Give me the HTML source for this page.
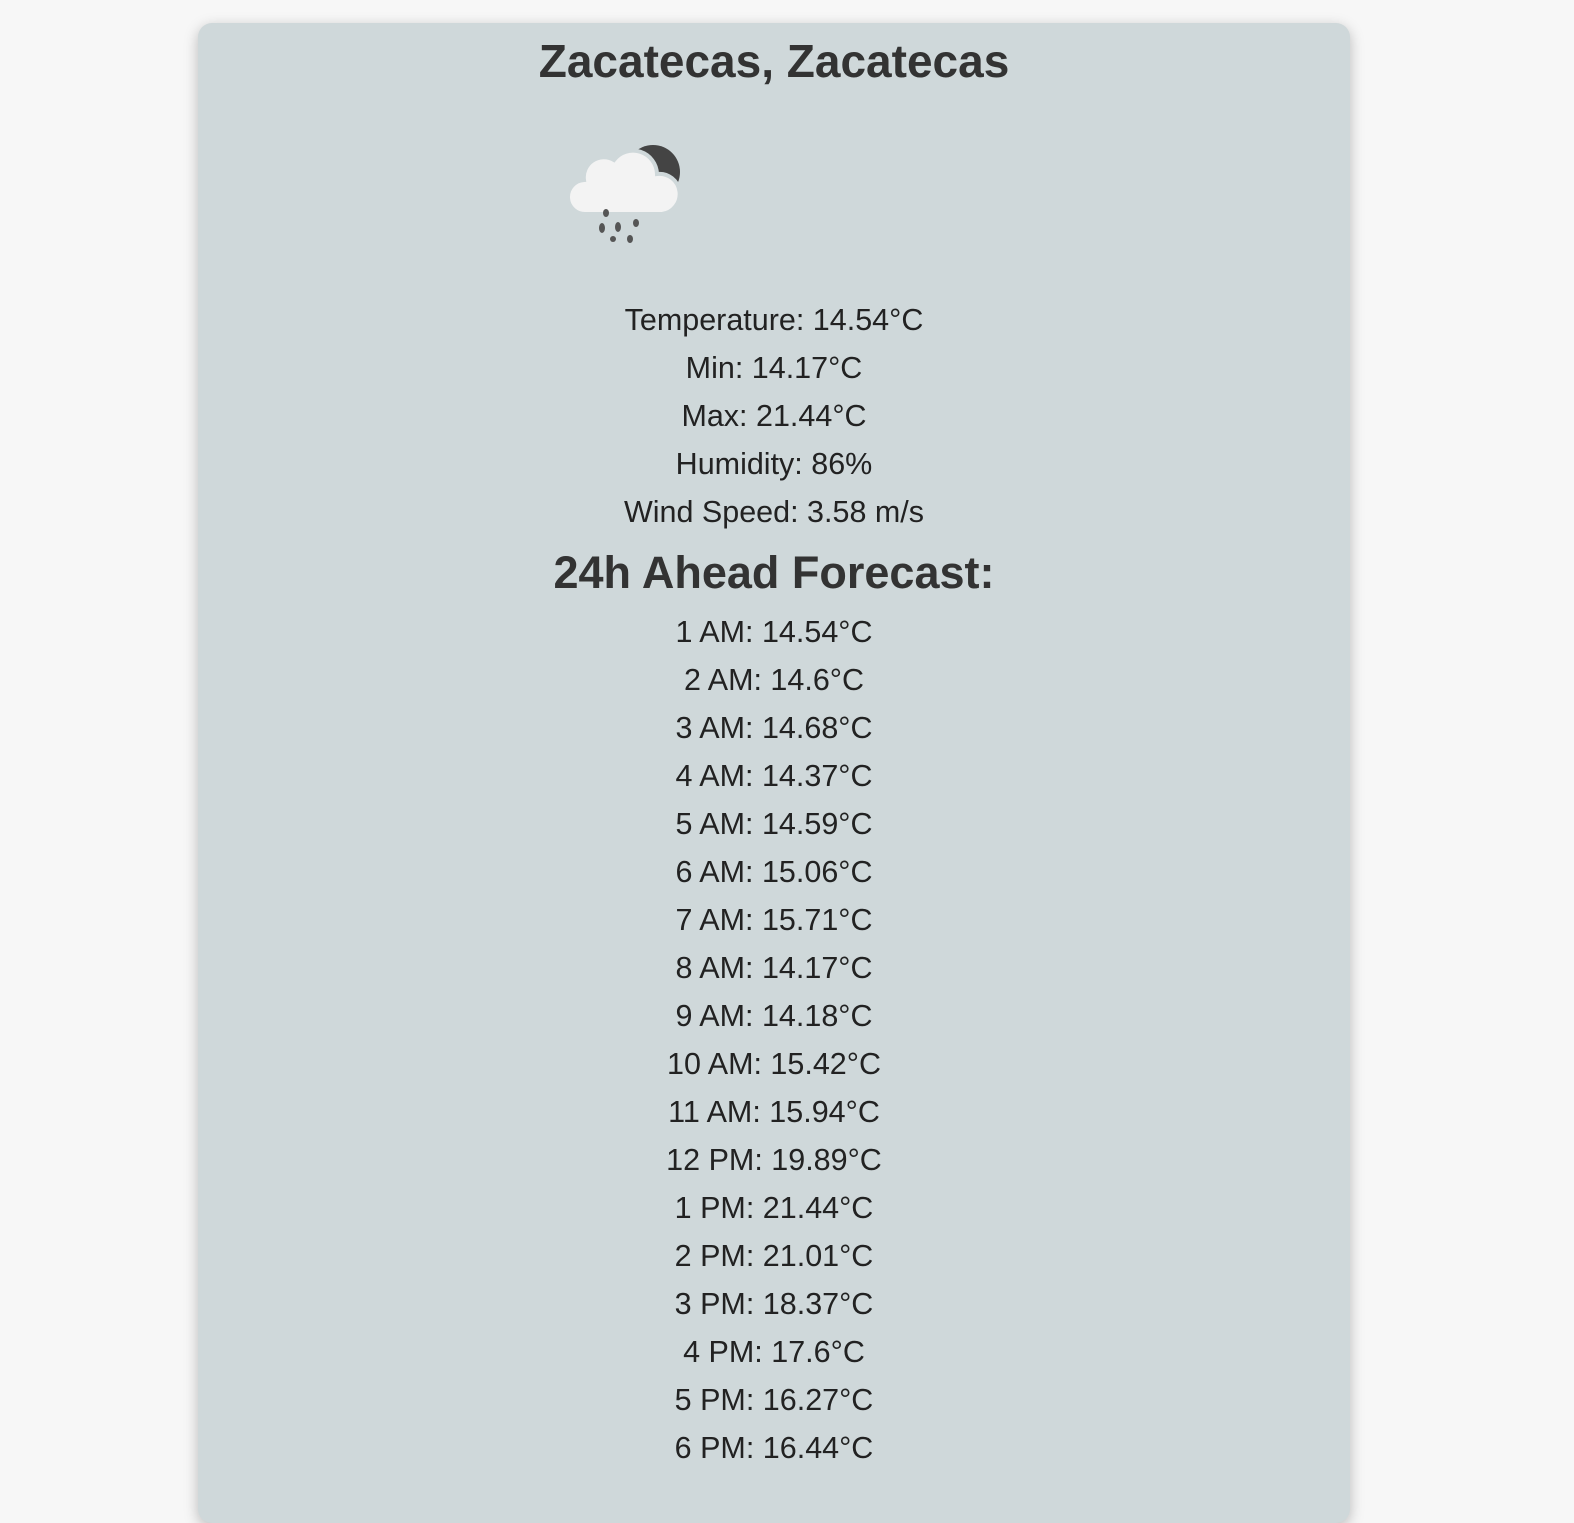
<!DOCTYPE html>
<html><head><meta charset="utf-8"><style>
html,body{margin:0;padding:0;background:#f7f7f7;width:1574px;height:1470px;overflow:hidden;font-family:"Liberation Sans",sans-serif;}
.card{position:absolute;left:198px;top:23px;width:1152px;height:1500px;background:#cfd8da;border-radius:14px;box-shadow:0 4px 14px rgba(0,0,0,0.25);text-align:center;color:#222;}
h1{margin:0;position:absolute;top:11px;left:0;right:0;font-size:46px;line-height:54px;font-weight:bold;color:#333;}
h2{margin:0;position:absolute;top:523px;left:0;right:0;font-size:45px;line-height:54px;font-weight:bold;color:#333;}
.lines{position:absolute;left:0;right:0;font-size:30.5px;line-height:48px;}
.icon{position:absolute;left:370px;top:118px;}
</style></head><body>
<div class="card">
<h1>Zacatecas, Zacatecas</h1>
<svg class="icon" width="120" height="115" viewBox="0 0 120 115">
<circle cx="85" cy="31" r="27" fill="#444"/>
<path d="M18 73 a17 17 0 0 1 -2-34 a20 20 0 0 1 30-20 a24 24 0 0 1 43 14 a16 16 0 0 1 5 40 z" fill="#f3f3f3" stroke="#cfd8da" stroke-width="4"/>
<g fill="#555">
<ellipse cx="38" cy="72" rx="3" ry="4"/><ellipse cx="34" cy="87" rx="3" ry="5"/><ellipse cx="50" cy="86" rx="3" ry="5"/><ellipse cx="68" cy="82" rx="3" ry="4"/><ellipse cx="45" cy="98" rx="3" ry="3"/><ellipse cx="62" cy="98" rx="3" ry="4"/>
</g>
</svg>
<div class="lines" style="top:273px">
<div>Temperature: 14.54°C</div>
<div>Min: 14.17°C</div>
<div>Max: 21.44°C</div>
<div>Humidity: 86%</div>
<div>Wind Speed: 3.58 m/s</div>
</div>
<h2>24h Ahead Forecast:</h2>
<div class="lines" style="top:585px">
<div>1 AM: 14.54°C</div>
<div>2 AM: 14.6°C</div>
<div>3 AM: 14.68°C</div>
<div>4 AM: 14.37°C</div>
<div>5 AM: 14.59°C</div>
<div>6 AM: 15.06°C</div>
<div>7 AM: 15.71°C</div>
<div>8 AM: 14.17°C</div>
<div>9 AM: 14.18°C</div>
<div>10 AM: 15.42°C</div>
<div>11 AM: 15.94°C</div>
<div>12 PM: 19.89°C</div>
<div>1 PM: 21.44°C</div>
<div>2 PM: 21.01°C</div>
<div>3 PM: 18.37°C</div>
<div>4 PM: 17.6°C</div>
<div>5 PM: 16.27°C</div>
<div>6 PM: 16.44°C</div>
</div>
</div>
</body></html>
